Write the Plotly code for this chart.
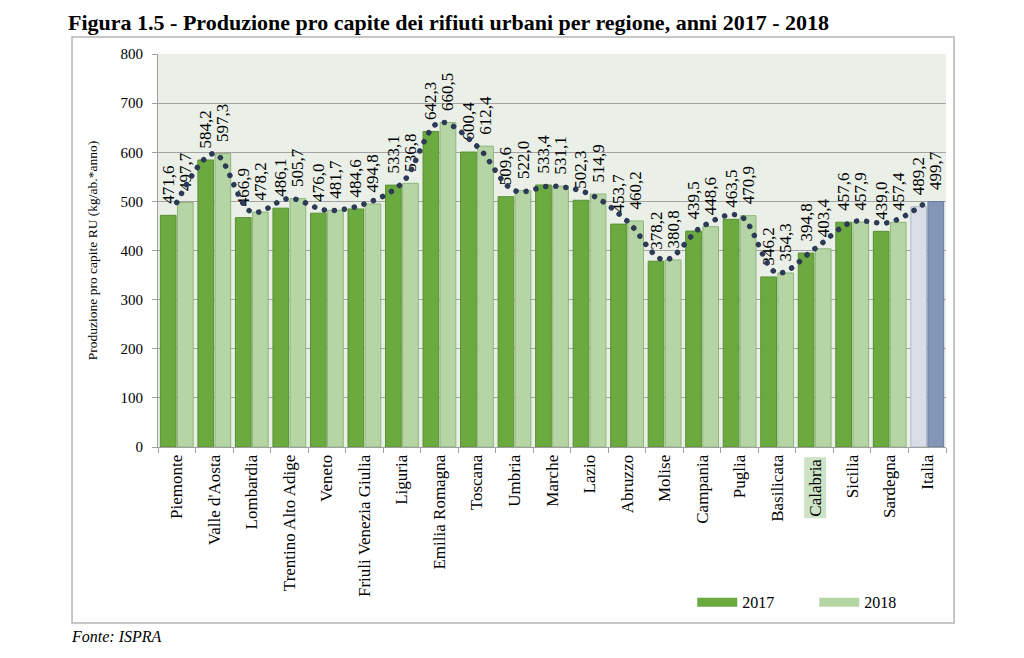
import plotly.graph_objects as go

regions = ["Piemonte", "Valle d'Aosta", "Lombardia", "Trentino Alto Adige", "Veneto",
           "Friuli Venezia Giulia", "Liguria", "Emilia Romagna", "Toscana", "Umbria",
           "Marche", "Lazio", "Abruzzo", "Molise", "Campania", "Puglia", "Basilicata",
           "Calabria", "Sicilia", "Sardegna", "Italia"]
values_2017 = [471.6, 584.2, 466.9, 486.1, 476.0, 484.6, 533.1, 642.3, 600.4, 509.6,
               533.4, 502.3, 453.7, 378.2, 439.5, 463.5, 346.2, 394.8, 457.6, 439.0, 489.2]
values_2018 = [497.7, 597.3, 478.2, 505.7, 481.7, 494.8, 536.8, 660.5, 612.4, 522.0,
               531.1, 514.9, 460.2, 380.8, 448.6, 470.9, 354.3, 403.4, 457.9, 457.4, 499.7]
y_ticks = [0, 100, 200, 300, 400, 500, 600, 700, 800]
highlight = "Calabria"

FONT = "Liberation Serif"
c17, c17l = "#6BAA3F", "#5A9134"
c18, c18l = "#B6D5A4", "#8EB57C"
it17, it17l = "#D9DDE8", "#AEB6C8"
it18, it18l = "#8496B6", "#6A7EA2"

n = len(regions)
col17 = [c17] * (n - 1) + [it17]
lin17 = [c17l] * (n - 1) + [it17l]
col18 = [c18] * (n - 1) + [it18]
lin18 = [c18l] * (n - 1) + [it18l]

LABEL = "\u00a0\u00a0%{y:.1f}"

fig = go.Figure()
fig.add_trace(go.Bar(x=regions, y=values_2017, name="2017", showlegend=False,
                     marker=dict(color=col17, line=dict(color=lin17, width=1)),
                     texttemplate=LABEL, textposition="outside", textangle=-90,
                     constraintext="none", cliponaxis=False,
                     textfont=dict(family=FONT, size=17, color="black")))
fig.add_trace(go.Bar(x=regions, y=values_2018, name="2018", showlegend=False,
                     marker=dict(color=col18, line=dict(color=lin18, width=1)),
                     texttemplate=LABEL, textposition="outside", textangle=-90,
                     constraintext="none", cliponaxis=False,
                     textfont=dict(family=FONT, size=17, color="black")))
fig.add_trace(go.Scatter(x=regions, y=values_2018, mode="lines", showlegend=False,
                         line=dict(color="#2D3A55", width=5.5, shape="spline",
                                   dash="0.1px,10px"),
                         hoverinfo="skip"))
# legend entries
fig.add_trace(go.Scatter(x=[None], y=[None], mode="lines", name="2017",
                         line=dict(color=c17, width=9)))
fig.add_trace(go.Scatter(x=[None], y=[None], mode="lines", name="2018",
                         line=dict(color=c18, width=9)))

ticktext = ["" if r == highlight else r for r in regions]

fig.update_layout(
    width=1024, height=658,
    margin=dict(l=158, r=78, t=54, b=211, autoexpand=False),
    paper_bgcolor="white", plot_bgcolor="#EAF0E8",
    separators=",.",
    barmode="group", bargap=0.09, bargroupgap=0.08,
    font=dict(family=FONT, size=15, color="black"),
    title=dict(text="Figura 1.5 - Produzione pro capite dei rifiuti urbani per regione, anni 2017 - 2018",
               font=dict(family=FONT, size=22, color="black", weight="bold"),
               xref="container", yref="container", x=68 / 1024, y=1 - 22 / 658,
               xanchor="left", yanchor="middle"),
    xaxis=dict(type="category", tickmode="array", tickvals=regions, ticktext=ticktext,
               tickangle=-90, showline=True, linecolor="#A0A0A0", linewidth=1,
               ticks="outside", tickson="boundaries", ticklen=5, tickcolor="#A0A0A0",
               tickfont=dict(family=FONT, size=17), showgrid=False, automargin=False),
    yaxis=dict(range=[0, 800], tickvals=y_ticks, showgrid=True, gridcolor="#A3A3A3",
               gridwidth=1, showline=True, linecolor="#A0A0A0", ticks="outside",
               ticklen=5, tickcolor="#A0A0A0", tickfont=dict(family=FONT, size=15),
               ticklabelstandoff=6, zeroline=False, automargin=False,
               title=dict(text="Produzione pro capite RU (kg/ab.*anno)",
                          font=dict(family=FONT, size=13.5), standoff=19)),
    legend=dict(orientation="h", x=0.678, y=-0.395, xanchor="left", yanchor="middle",
                font=dict(family=FONT, size=16), itemwidth=40, entrywidth=67,
                bgcolor="rgba(0,0,0,0)"),
    shapes=[dict(type="rect", xref="paper", yref="paper",
                 x0=-0.1091, x1=1.0102, y0=-0.4478, y1=1.0433,
                 line=dict(color="#B5B5B5", width=1.5), layer="below")],
    annotations=[
        dict(text=highlight, x=highlight, xref="x", y=0, yref="paper",
             yanchor="top", yshift=-10, textangle=-90, showarrow=False,
             bgcolor="#CDE3C6", borderpad=1,
             font=dict(family=FONT, size=17, color="black")),
        dict(text="<i>Fonte: ISPRA</i>", x=-0.113, y=-0.481, xref="paper", yref="paper",
             xanchor="left", yanchor="middle", showarrow=False,
             font=dict(family=FONT, size=16, color="black")),
    ],
)

post = ("document.querySelectorAll('.scatterlayer .js-line').forEach(function(p){"
        "p.style.strokeLinecap='round';});")
fig.write_html("out.html", post_script=post)
